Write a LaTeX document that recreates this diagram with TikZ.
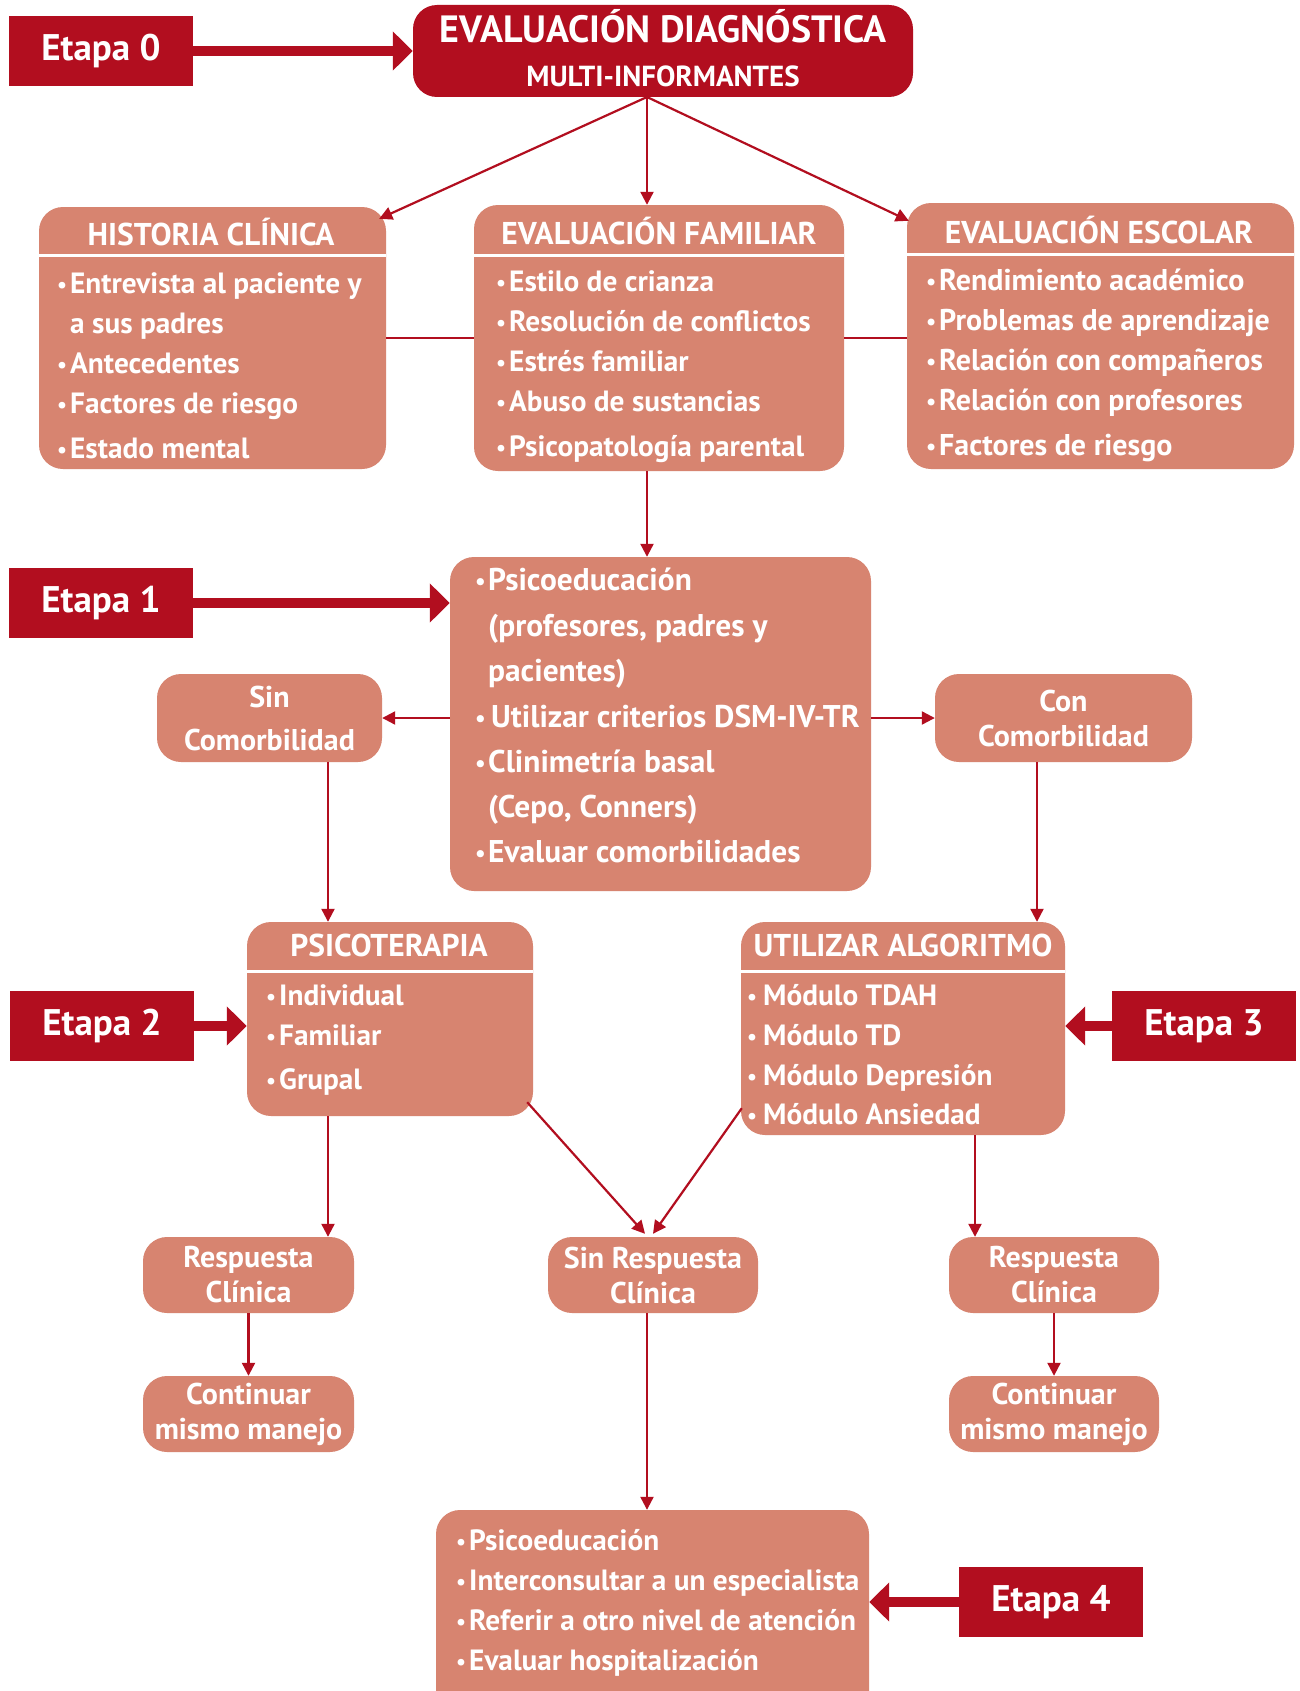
\documentclass[tikz,border=0pt]{standalone}
\usepackage{fontspec}
\setmainfont{PT Sans}
\newfontfamily\wf{PT Sans}
\usetikzlibrary{arrows.meta,calc}
\definecolor{dred}{HTML}{B20E1F}
\definecolor{salm}{HTML}{D78470}
\newcommand\bul{\makebox[13pt][l]{\raisebox{1pt}{\scalebox{0.75}{•}}}}
\newcommand\bulw{\makebox[16pt][l]{\raisebox{1pt}{\scalebox{0.75}{•}}}}
\newcommand\ind{\hspace*{13pt}}
\tikzset{
  etapa/.style={fill=dred, minimum width=184pt, minimum height=70pt, inner sep=0pt, text=white, font=\wf\bfseries\fontsize{37}{40}\selectfont},
  box/.style={fill=salm, rounded corners=24pt, inner sep=0pt},
  darkbox/.style={fill=dred, rounded corners=24pt, inner sep=0pt},
  hd/.style={anchor=base, text=white, inner sep=0pt, font=\wf\bfseries\fontsize{31.5}{32}\selectfont},
  it/.style={anchor=base west, text=white, inner sep=0pt, font=\wf\bfseries\fontsize{29.3}{30}\selectfont},
  itw/.style={anchor=base west, text=white, inner sep=0pt, font=\wf\bfseries\fontsize{30}{30}\selectfont},
  itb/.style={anchor=base west, text=white, inner sep=0pt, font=\wf\bfseries\fontsize{31.4}{32}\selectfont},
  sm/.style={box, text=white, align=center, font=\wf\bfseries\fontsize{30}{35}\selectfont},
  sep/.style={draw=white, line width=3pt},
  link/.style={draw=dred, line width=2.2pt},
  tarrow/.style={link, -{Triangle[length=13pt,width=13pt]}},
  barrow/.style={draw=dred, line width=10pt, -{Triangle[length=20pt,width=38pt]}},
}
\begin{document}
\begin{tikzpicture}[x=1pt,y=-1pt]
\fill[white] (0,0) rectangle (1299,1691);
\path[use as bounding box] (0,0) rectangle (1299,1691);
\clip (0,0) rectangle (1299,1691);

% Etapa labels
\node[etapa] (e0) at (101,51) {Etapa 0};
\node[etapa] (e1) at (101,603) {Etapa 1};
\node[etapa] (e2) at (102,1026) {Etapa 2};
\node[etapa] (e3) at (1204,1026) {Etapa 3};
\node[etapa] (e4) at (1051,1602) {Etapa 4};

% main boxes
\node[darkbox, minimum width=500pt, minimum height=92pt] (top) at (663,51) {};
\node[box, minimum width=347pt, minimum height=262pt] (hc) at (212.5,338) {};
\node[box, minimum width=370pt, minimum height=266pt] (fam) at (659,338) {};
\node[box, minimum width=387pt, minimum height=266pt] (esc) at (1100.5,336) {};
\node[box, minimum width=421pt, minimum height=334pt] (psico) at (660.5,724) {};
\node[box, minimum width=286pt, minimum height=194pt] (psicot) at (390,1019) {};
\node[box, minimum width=324pt, minimum height=213pt] (algo) at (903,1028.5) {};
\node[box, minimum width=433pt, minimum height=210pt] (bot) at (652.5,1615) {};

\node[sm, minimum width=225pt, minimum height=88pt] (sinc) at (269.5,718) {Sin\\[8pt]Comorbilidad};
\node[sm, minimum width=257pt, minimum height=88pt] (conc) at (1063.5,718) {Con\\Comorbilidad};
\node[sm, minimum width=211pt, minimum height=76pt] (respl) at (248.5,1275) {Respuesta\\Clínica};
\node[sm, minimum width=210pt, minimum height=76pt] (sinr) at (653,1275) {Sin Respuesta\\Clínica};
\node[sm, minimum width=210pt, minimum height=76pt] (respr) at (1054,1275) {Respuesta\\Clínica};
\node[sm, minimum width=211pt, minimum height=76pt] (contl) at (248.5,1414) {Continuar\\mismo manejo};
\node[sm, minimum width=210pt, minimum height=76pt] (contr) at (1054,1414) {Continuar\\mismo manejo};

% header separators
\draw[sep] (hc.west |- 0,255) -- (hc.east |- 0,255);
\draw[sep] (fam.west |- 0,255) -- (fam.east |- 0,255);
\draw[sep] (esc.west |- 0,254) -- (esc.east |- 0,254);
\draw[sep] (psicot.west |- 0,971) -- (psicot.east |- 0,971);
\draw[sep] (algo.west |- 0,971) -- (algo.east |- 0,971);

% titles
\node[anchor=base, text=white, inner sep=0pt, font=\wf\bfseries\fontsize{38}{40}\selectfont] (t1) at (663,43) {EVALUACIÓN DIAGNÓSTICA};
\node[anchor=base, text=white, inner sep=0pt, font=\wf\bfseries\fontsize{29}{30}\selectfont] (t2) at (663,87) {MULTI-INFORMANTES};
\node[hd] (hch) at (211,245) {HISTORIA CLÍNICA};
\node[hd] (famh) at (659,244) {EVALUACIÓN FAMILIAR};
\node[hd] (esch) at (1099,243) {EVALUACIÓN ESCOLAR};
\node[hd] (psicoth) at (389,956) {PSICOTERAPIA};
\node[hd] (algoh) at (903,956) {UTILIZAR ALGORITMO};

% item lists
\foreach \yy/\txt [count=\i] in {293/{\bul Entrevista al paciente y}, 333/{\ind a sus padres}, 373/{\bul Antecedentes}, 413/{\bul Factores de riesgo}, 458/{\bul Estado mental}}
  \node[it, name=hci\i] at (57,\yy) {\txt};
\foreach \yy/\txt [count=\i] in {291/{\bul Estilo de crianza}, 331/{\bul Resolución de conflictos}, 371/{\bul Estrés familiar}, 411/{\bul Abuso de sustancias}, 456/{\bul Psicopatología parental}}
  \node[it, name=fami\i] at (496,\yy) {\txt};
\foreach \yy/\txt [count=\i] in {290/{\bul Rendimiento académico}, 330/{\bul Problemas de aprendizaje}, 370/{\bul Relación con compañeros}, 410/{\bul Relación con profesores}, 455/{\bul Factores de riesgo}}
  \node[itw, name=esci\i] at (926,\yy) {\txt};
\foreach \yy/\txt [count=\i] in {590/{\bul Psicoeducación}, 636/{\ind (profesores, padres y}, 681/{\ind pacientes)}, 727/{\bulw Utilizar criterios DSM-IV-TR}, 772/{\bul Clinimetría basal}, 817/{\ind (Cepo, Conners)}, 862/{\bul Evaluar comorbilidades}}
  \node[itb, name=psi\i] at (475,\yy) {\txt};
\foreach \yy/\txt [count=\i] in {1005/{\bul Individual}, 1045/{\bul Familiar}, 1089/{\bul Grupal}}
  \node[it, name=pti\i] at (266,\yy) {\txt};
\foreach \yy/\txt [count=\i] in {1005/{\bulw Módulo TDAH}, 1045/{\bulw Módulo TD}, 1085/{\bulw Módulo Depresión}, 1124/{\bulw Módulo Ansiedad}}
  \node[it, name=ali\i] at (747,\yy) {\txt};
\foreach \yy/\txt [count=\i] in {1550/{\bul Psicoeducación}, 1590/{\bul Interconsultar a un especialista}, 1630/{\bul Referir a otro nivel de atención}, 1670/{\bul Evaluar hospitalización}}
  \node[it, name=boi\i] at (456,\yy) {\txt};

% connectors
\coordinate (o) at (647,97);
\coordinate (xl) at (328,0);
\coordinate (xr) at (1037,0);
\coordinate (xa) at (975,0);
\draw[barrow] (e0.east) -- (top.west);
\draw[barrow] (e1.east) -- (e1.east -| psico.west);
\draw[barrow] (e2.east) -- (e2.east -| psicot.west);
\draw[barrow] (e3.west) -- (e3.west -| algo.east);
\draw[barrow] (e4.west) -- (e4.west -| bot.east);

\draw[tarrow] (o) -- ($(hc.north east)+(-7,12)$);
\draw[tarrow] (o) -- (o |- fam.north);
\draw[tarrow] (o) -- ($(esc.north west)+(2,18)$);
\draw[link] (hc.east) -- (fam.west);
\draw[link] (fam.east) -- (esc.west |- fam.east);
\draw[tarrow] (o |- fam.south) -- (o |- psico.north);
\draw[tarrow] (psico.west |- sinc.east) -- (sinc.east);
\draw[tarrow] (psico.east |- conc.west) -- (conc.west);
\draw[tarrow] (xl |- sinc.south) -- (xl |- psicot.north);
\draw[tarrow] (xr |- conc.south) -- (xr |- algo.north);
\draw[tarrow] (xl |- psicot.south) -- (xl |- respl.north);
\draw[tarrow] (xa |- algo.south) -- (xa |- respr.north);
\draw[tarrow] ($(psicot.south east)+(-6,-14)$) -- ($(sinr.north)+(-8,-3)$);
\draw[tarrow] ($(algo.south west)+(1,-27)$) -- ($(sinr.north)+(0,-3)$);
\draw[tarrow] (respl.south) -- (contl.north);
\draw[tarrow] (respr.south) -- (contr.north);
\draw[tarrow] (o |- sinr.south) -- (o |- bot.north);
\end{tikzpicture}
\end{document}
